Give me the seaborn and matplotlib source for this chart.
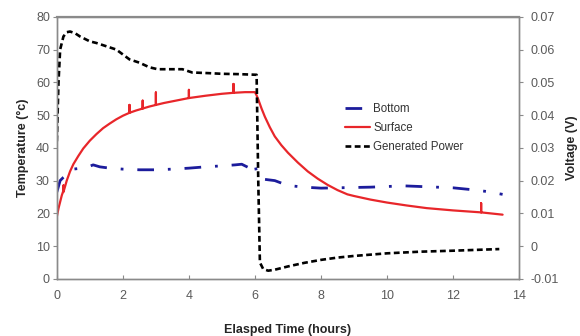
import matplotlib
matplotlib.use("Agg")
import matplotlib.pyplot as plt
import seaborn as sns

# Elapsed time (hours) and temperatures (°C) at the bottom of the sample
bottom_t = [0, 0.1, 0.2, 0.5, 0.9, 1.1, 1.3, 1.6, 2.0, 2.5, 3.0, 3.5, 4.0, 4.5,
            5.0, 5.4, 5.6, 5.9, 6.0, 6.05, 6.2, 6.6, 7.0, 7.5, 8.0, 8.5, 9.0,
            9.5, 10.0, 10.5, 11.0, 11.5, 12.0, 12.5, 13.0, 13.5]
bottom_temp = [26.5, 30, 31, 33.5, 34, 34.8, 34.2, 33.8, 33.5, 33.3, 33.3, 33.5,
               33.8, 34.2, 34.5, 34.8, 35.0, 33.5, 35.0, 32.5, 30.5, 30, 28.5,
               28, 27.7, 27.8, 27.9, 28.0, 28.2, 28.4, 28.2, 28.0, 27.8, 27.3,
               26.7, 25.8]

# Surface temperature, including the short logger spikes
surface_t = [0, 0.05, 0.1, 0.15, 0.2, 0.2, 0.2, 0.3, 0.4, 0.5, 0.65, 0.8, 1.0,
             1.2, 1.4, 1.6, 1.8, 2.0, 2.2, 2.2, 2.2, 2.4, 2.6, 2.6, 2.6, 2.8,
             3.0, 3.0, 3.0, 3.25, 3.5, 3.75, 4.0, 4.0, 4.0, 4.5, 5.0, 5.35,
             5.35, 5.35, 5.7, 6.0, 6.05, 6.1, 6.2, 6.3, 6.45, 6.6, 6.8, 7.0,
             7.3, 7.6, 7.9, 8.2, 8.5, 8.8, 9.0, 9.5, 10.0, 10.6, 11.2, 12.0,
             12.85, 12.85, 12.85, 13.5]
surface_temp = [19, 21.5, 23.5, 25.5, 27, 28.5, 26.5, 30, 32.8, 35, 37.5, 39.8,
                42.2, 44.2, 46, 47.4, 48.7, 49.8, 50.7, 53.1, 50.7, 51.4, 52,
                54.4, 52, 52.6, 53.1, 56.9, 53.1, 53.7, 54.2, 54.7, 55.2, 57.7,
                55.2, 55.9, 56.5, 56.8, 59.5, 56.8, 57, 57, 56, 54.8, 52, 49.5,
                46.3, 43.5, 40.8, 38.5, 35.5, 32.8, 30.6, 28.7, 27.1, 25.8,
                25.3, 24.2, 23.3, 22.4, 21.6, 20.9, 20.3, 23.1, 20.3, 19.6]

# Generated power, read as voltage (V)
power_t = [0, 0.05, 0.1, 0.2, 0.3, 0.4, 0.55, 0.7, 1.0, 1.2, 1.5, 1.8, 2.2, 2.5,
           2.8, 3.05, 3.5, 3.8, 4.1, 4.6, 5.0, 5.5, 6.05, 6.1, 6.15, 6.25, 6.4,
           6.6, 7.0, 7.5, 8.0, 8.5, 9.0, 10.0, 11.0, 12.0, 13.4]
power_v = [0.032, 0.050, 0.060, 0.064, 0.0653, 0.0655, 0.065, 0.064, 0.0625,
           0.062, 0.061, 0.060, 0.057, 0.056, 0.0546, 0.054, 0.054, 0.054,
           0.053, 0.0528, 0.0526, 0.0525, 0.0523, 0.020, -0.005, -0.007,
           -0.0075, -0.0072, -0.0062, -0.0051, -0.0042, -0.0035, -0.003,
           -0.0022, -0.0017, -0.0014, -0.0009]

x_ticks = [0, 2, 4, 6, 8, 10, 12, 14]
temp_ticks = [0, 10, 20, 30, 40, 50, 60, 70, 80]
volt_ticks = [-0.01, 0, 0.01, 0.02, 0.03, 0.04, 0.05, 0.06, 0.07]
volt_labels = ["-0.01", "0", "0.01", "0.02", "0.03", "0.04", "0.05", "0.06",
               "0.07"]

sns.set_style("white")
plt.rcParams["font.family"] = ["Liberation Sans", "DejaVu Sans"]

fig = plt.figure(figsize=(5.8, 3.36), dpi=100)
ax = fig.add_axes([0.098, 0.170, 0.797, 0.780])
ax2 = ax.twinx()

navy = "#1c1c9c"
red = "#e8262a"

sns.lineplot(x=bottom_t, y=bottom_temp, ax=ax, color=navy, lw=2.0,
             estimator=None, sort=False, label="Bottom")
sns.lineplot(x=surface_t, y=surface_temp, ax=ax, color=red, lw=1.6,
             estimator=None, sort=False, label="Surface")
sns.lineplot(x=power_t, y=power_v, ax=ax2, color="black", lw=1.9,
             estimator=None, sort=False, label="Generated Power")

ax.lines[0].set_dashes([6, 5, 1, 5])
ax2.lines[0].set_dashes([2.2, 1.3])

ax.set_xlim(0, 14)
ax.set_ylim(0, 80)
ax2.set_ylim(-0.01, 0.07)
ax.set_xticks(x_ticks)
ax.set_yticks(temp_ticks)
ax2.set_yticks(volt_ticks)
ax2.set_yticklabels(volt_labels)

tick_color = "#5a5a5a"
spine_color = "#8a8a8a"
for a in (ax, ax2):
    for s in a.spines.values():
        s.set_color(spine_color)
        s.set_linewidth(1.0)
ax.spines["top"].set_linewidth(1.6)
ax.tick_params(axis="y", direction="out", length=3, color=spine_color,
               labelsize=9, labelcolor=tick_color, pad=2, left=True)
ax.tick_params(axis="x", direction="in", length=3, color=spine_color,
               labelsize=9, labelcolor=tick_color, pad=8, bottom=True)
ax2.tick_params(axis="y", direction="out", length=3, color=spine_color,
                labelsize=9, labelcolor=tick_color, pad=5, right=True)

ax.set_xlabel("Elasped Time (hours)", fontsize=9, fontweight="bold",
              labelpad=16)
ax.set_ylabel("Temperature (°c)", fontsize=9, fontweight="bold", labelpad=5)
ax2.set_ylabel("Voltage (V)", fontsize=9, fontweight="bold", labelpad=5)

h1, l1 = ax.get_legend_handles_labels()
h2, l2 = ax2.get_legend_handles_labels()
ax.get_legend().remove()
ax2.get_legend().remove()
ax2.legend(h1 + h2, l1 + l2, loc="upper left", bbox_to_anchor=(0.6, 0.71),
           frameon=False, fontsize=8.3, handlelength=2.2, handletextpad=0.3,
           labelspacing=0.62, labelcolor="#333333")

fig.savefig("out.png", dpi=100)
